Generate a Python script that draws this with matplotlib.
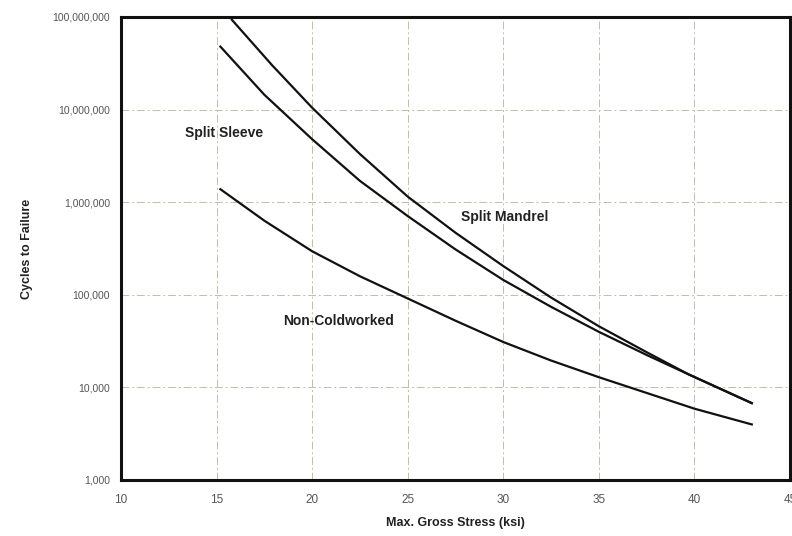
import numpy as np
import matplotlib
matplotlib.use("Agg")
import matplotlib.pyplot as plt
from matplotlib.ticker import FixedLocator, FuncFormatter

plt.rcParams['font.family'] = ['Liberation Sans', 'DejaVu Sans']

# values (stress in ksi, log10 of cycles)
mandrel_x = [15.8, 17.9, 20, 22.5, 25, 27.5, 30, 32.5, 35, 37.5, 39.7, 43]
mandrel_log = [7.97, 7.48, 7.02, 6.52, 6.06, 5.67, 5.31, 4.97, 4.66, 4.38, 4.14, 3.83]

sleeve_x = [15.2, 17.5, 20, 22.5, 25, 27.5, 30, 32.5, 35, 37.5, 39.7, 43]
sleeve_log = [7.68, 7.16, 6.68, 6.23, 5.85, 5.49, 5.16, 4.87, 4.60, 4.35, 4.14, 3.83]

noncw_x = [15.2, 17.5, 20, 22.5, 25, 27.5, 30, 32.5, 35, 37.5, 40, 43]
noncw_log = [6.14, 5.80, 5.47, 5.20, 4.96, 4.72, 4.49, 4.29, 4.11, 3.94, 3.77, 3.60]

x_ticks = [10, 15, 20, 25, 30, 35, 40, 45]
y_ticks = [1e3, 1e4, 1e5, 1e6, 1e7, 1e8]

fig = plt.figure(figsize=(7.92, 5.36), dpi=100)
ax = fig.add_axes([0.1528, 0.1045, 0.8447, 0.8638])

for xs, ls in [(mandrel_x, mandrel_log), (sleeve_x, sleeve_log), (noncw_x, noncw_log)]:
    ax.plot(xs, 10 ** np.array(ls), color='#111111', lw=1.6, solid_joinstyle='round')

ax.set_yscale('log')
ax.set_xlim(10, 45)
ax.set_ylim(1e3, 1e8)
ax.xaxis.set_major_locator(FixedLocator(x_ticks))
ax.yaxis.set_major_locator(FixedLocator(y_ticks))
ax.yaxis.set_minor_locator(FixedLocator([]))
ax.yaxis.set_major_formatter(FuncFormatter(lambda v, p: '{:,.0f}'.format(v)))
ax.grid(True, color='#c0c0a8', lw=0.7, ls=(0, (8, 3, 2, 3)))
ax.tick_params(axis='both', length=0, colors='#555555', labelsize=7.5, pad=8)
ax.tick_params(axis='x', labelsize=8.5, pad=10)
for sp in ax.spines.values():
    sp.set_linewidth(2.2)
    sp.set_color('#111111')

ax.set_xlabel('Max. Gross Stress (ksi)', fontsize=9, fontweight='bold', labelpad=8, color='#222222')
ax.set_ylabel('Cycles to Failure', fontsize=9, fontweight='bold', labelpad=14, color='#222222')

ax.text(13.35, 10 ** 6.75, 'Split Sleeve', fontsize=10, fontweight='bold', ha='left', va='center', color='#222222')
ax.text(27.8, 10 ** 5.84, 'Split Mandrel', fontsize=10, fontweight='bold', ha='left', va='center', color='#222222')
ax.text(18.5, 10 ** 4.72, 'Non-Coldworked', fontsize=10, fontweight='bold', ha='left', va='center', color='#222222')

fig.savefig('out.png', dpi=100)
